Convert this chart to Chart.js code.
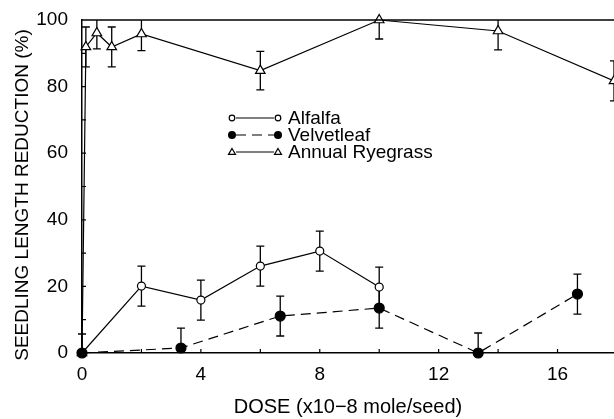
<!DOCTYPE html>
<html><head><meta charset="utf-8">
<script src="https://cdn.jsdelivr.net/npm/chart.js@4/dist/chart.umd.min.js"></script>
<style>html,body{margin:0;padding:0;background:#fff;overflow:hidden}#wrap{width:614px;height:419px;position:relative}</style>
</head><body><div id="wrap"><canvas id="c" width="614" height="419"></canvas></div>
<script>
// ---- data ----
const seriesNames = ['Alfalfa', 'Velvetleaf', 'Annual Ryegrass'];
const alfalfaDose  = [0, 2, 4, 6, 8, 10];
const alfalfaValue = [0, 20.1, 15.9, 26.1, 30.6, 19.8];
const alfalfaErr   = [5.7, 6, 6, 6, 6, 6];
const velvetDose   = [0, 3.33, 6.67, 10, 13.33, 16.67];
const velvetValue  = [0, 1.5, 11.1, 13.5, 0, 17.7];
const velvetErr    = [0, 6, 6, 6, 6, 6];
const ryeDose      = [0, 0.13, 0.5, 1, 2, 6, 10, 14, 17.9];
const ryeValue     = [0, 91.9, 96.1, 91.9, 95.8, 84.8, 100, 96.7, 81.7];
const ryeErr       = [0, 6, 4.8, 6, 5, 5.8, 5.7, 5.7, 6];
const xTicks = [0, 4, 8, 12, 16];
const yTicks = [0, 20, 40, 60, 80, 100];
const xMinorStep = 2;
const yMinorStep = 10;
const xTitle = 'DOSE (x10\u22128 mole/seed)';
const yTitle = 'SEEDLING LENGTH REDUCTION (%)';

const FONT = "'Liberation Sans', Arial, Helvetica, sans-serif";
const pts = (xs, ys) => xs.map((x, i) => ({x: x, y: ys[i]}));
const errs = [alfalfaErr, velvetErr, ryeErr];

const errPlugin = {
  id: 'errbars',
  beforeDatasetsDraw(chart) {
    const {ctx, chartArea: a, scales: {x, y}} = chart;
    ctx.save();
    ctx.beginPath(); ctx.rect(a.left - 6, a.top - 1, a.right - a.left + 12, a.bottom - a.top + 1); ctx.clip();
    ctx.strokeStyle = '#000'; ctx.lineWidth = 1.3;
    chart.data.datasets.forEach((ds, di) => {
      ds.data.forEach((p, i) => {
        const e = errs[di][i];
        if (!e) return;
        const lo = Math.max(p.y - e, y.min), hi = Math.min(p.y + e, y.max);
        const px = x.getPixelForValue(p.x), py1 = y.getPixelForValue(lo), py2 = y.getPixelForValue(hi);
        ctx.beginPath(); ctx.moveTo(px, py1); ctx.lineTo(px, py2);
        if (p.y + e <= y.max) { ctx.moveTo(px - 4, py2); ctx.lineTo(px + 4, py2); }
        if (p.y - e >= y.min) { ctx.moveTo(px - 4, py1); ctx.lineTo(px + 4, py1); }
        ctx.stroke();
      });
    });
    ctx.restore();
  }
};

const framePlugin = {
  id: 'frame',
  afterDraw(chart) {
    const {ctx, chartArea: a, scales: {x, y}} = chart;
    ctx.save();
    ctx.strokeStyle = '#000'; ctx.lineWidth = 1.5;
    ctx.beginPath(); ctx.moveTo(a.left, a.top); ctx.lineTo(a.right, a.top); ctx.stroke();
    ctx.lineWidth = 1.2;
    ctx.beginPath();
    for (let v = xMinorStep; v <= x.max; v += xMinorStep) {
      const px = x.getPixelForValue(v);
      ctx.moveTo(px, a.bottom); ctx.lineTo(px, a.bottom - 4);
    }
    for (let v = yMinorStep; v < y.max; v += yMinorStep) {
      const py = y.getPixelForValue(v);
      ctx.moveTo(a.left, py); ctx.lineTo(a.left + 4, py);
    }
    ctx.stroke();
    // vertical axis title
    ctx.fillStyle = '#000';
    ctx.font = '19px ' + FONT;
    ctx.textAlign = 'center'; ctx.textBaseline = 'middle';
    ctx.translate(23, 195);
    ctx.rotate(-Math.PI / 2);
    ctx.fillText(yTitle, 0, 0);
    ctx.restore();
  }
};

const legendPlugin = {
  id: 'customLegend',
  afterDraw(chart) {
    const ctx = chart.ctx;
    const rows = [118, 135, 152];
    const x1 = 232, x2 = 278, tx = 288;
    ctx.save();
    ctx.strokeStyle = '#000'; ctx.fillStyle = '#000'; ctx.lineWidth = 1.2;
    chart.data.datasets.forEach((ds, i) => {
      const yy = rows[i];
      ctx.setLineDash(ds.borderDash || []);
      ctx.beginPath(); ctx.moveTo(x1 + 4, yy); ctx.lineTo(x2 - 4, yy); ctx.stroke();
      ctx.setLineDash([]);
      [x1, x2].forEach(mx => {
        ctx.beginPath();
        if (ds.pointStyle === 'triangle') {
          const r = 3.5;
          ctx.moveTo(mx, yy - r); ctx.lineTo(mx + r, yy + r * 0.7); ctx.lineTo(mx - r, yy + r * 0.7); ctx.closePath();
          ctx.fillStyle = '#fff'; ctx.fill(); ctx.stroke();
        } else if (ds.pointBackgroundColor === '#000') {
          ctx.arc(mx, yy, 4, 0, Math.PI * 2); ctx.fillStyle = '#000'; ctx.fill();
        } else {
          ctx.arc(mx, yy, 2.8, 0, Math.PI * 2); ctx.fillStyle = '#fff'; ctx.fill(); ctx.stroke();
        }
      });
      ctx.fillStyle = '#000';
      ctx.font = '19px ' + FONT;
      ctx.textBaseline = 'middle'; ctx.textAlign = 'left';
      ctx.fillText(seriesNames[i], tx, yy + 1);
    });
    ctx.restore();
  }
};

const common = {showLine: true, borderColor: '#000', borderWidth: 1.2, pointBorderColor: '#000', pointBorderWidth: 1.2, clip: false};

new Chart(document.getElementById('c'), {
  type: 'scatter',
  data: {
    datasets: [
      Object.assign({}, common, {label: seriesNames[0], order: 1, data: pts(alfalfaDose, alfalfaValue), pointStyle: 'circle', pointRadius: 4, pointBackgroundColor: '#fff'}),
      Object.assign({}, common, {label: seriesNames[1], order: 0, data: pts(velvetDose, velvetValue), pointStyle: 'circle', pointRadius: 5, pointBackgroundColor: '#000', borderDash: [10, 6]}),
      Object.assign({}, common, {label: seriesNames[2], order: 2, data: pts(ryeDose, ryeValue), pointStyle: 'triangle', pointRadius: 5.5, pointBackgroundColor: '#fff'})
    ]
  },
  options: {
    responsive: false, animation: false, devicePixelRatio: 1,
    layout: {autoPadding: false, padding: {top: 20, right: 0, left: 0, bottom: 0}},
    plugins: {legend: {display: false}, tooltip: {enabled: false}},
    scales: {
      x: {
        type: 'linear', min: 0, max: 17.9,
        afterBuildTicks: s => { s.ticks = xTicks.map(v => ({value: v})); },
        afterFit: s => { s.height = 66; s.paddingLeft = 0; s.paddingRight = 0; },
        grid: {display: false, drawTicks: false},
        border: {display: true, color: '#000', width: 1.5},
        ticks: {padding: 10, color: '#000', font: {family: FONT, size: 19}, maxRotation: 0},
        title: {display: true, text: xTitle, color: '#000', font: {family: FONT, size: 20}, padding: {top: 0, bottom: 0}}
      },
      y: {
        type: 'linear', min: 0, max: 100,
        afterBuildTicks: s => { s.ticks = yTicks.map(v => ({value: v})); },
        afterFit: s => { s.width = 82; s.paddingTop = 0; s.paddingBottom = 0; },
        grid: {display: false, drawTicks: false},
        border: {display: true, color: '#000', width: 1.5},
        ticks: {padding: 14, color: '#000', font: {family: FONT, size: 19}},
        title: {display: false, text: yTitle}
      }
    }
  },
  plugins: [errPlugin, framePlugin, legendPlugin]
});
</script>
</body></html>
